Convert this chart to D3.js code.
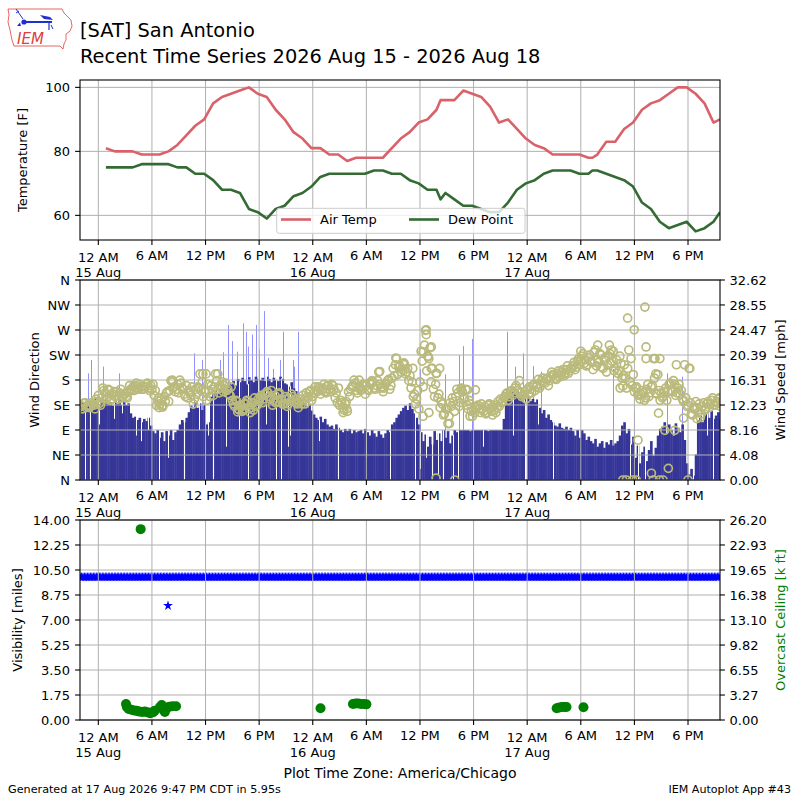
<!DOCTYPE html>
<html><head><meta charset="utf-8">
<script src="https://cdn.jsdelivr.net/npm/d3@7"></script>
<style>body{margin:0;background:#fff} svg{display:block} text{font-family:"DejaVu Sans",sans-serif}</style>
</head><body>
<svg id="c" width="800" height="800"></svg>
<script>
// ---------------- DATA (hours since 15 Aug 2026 00:00 CDT) ----------------
const titleLines = ["[SAT] San Antonio", "Recent Time Series 2026 Aug 15 - 2026 Aug 18"];
const xStartHour = -2.05, xEndHour = 69.58;

const obsHours = [0.85,1.85,2.85,3.85,4.85,5.85,6.85,7.85,8.85,9.85,10.85,11.85,12.85,13.85,14.85,15.85,16.85,17.85,18.85,19.85,
  20.85,21.85,22.85,23.85,24.85,25.85,26.85,27.85,28.85,29.85,30.85,31.85,32.85,33.85,34.85,35.85,36.85,37.85,38.3,
  38.85,39.85,40.85,41.85,42.85,43.85,44.85,45.85,46.85,47.85,48.85,49.85,50.85,51.85,52.85,53.85,54.85,55.3,
  55.85,56.85,57.85,58.85,59.85,60.85,61.85,62.85,63.85,64.85,65.85,66.85,67.85,68.85,69.58];
const airTemp = [81,80,80,80,79,79,79,80,82,85,88,90,95,97,98,99,100,98,97,93,
  90,86,84,81,81,79,79,77,78,78,78,78,81,84,86,89,90,93,96,
  96,96,99,98,97,94,89,90,87,84,82,81,79,79,79,79,78,78,
  79,83,83,87,89,93,95,96,98,100,100,98,95,89,90];
const dewPoint = [75,75,75,75,76,76,76,76,75,75,73,73,71,68,68,67,62,61,59,62,
  63,66,67,69,72,73,73,73,73,73,74,74,73,73,71,70,68,68,65,
  67,65,63,63,62,61,61,64,68,70,71,73,74,74,74,73,73,74,
  74,73,72,71,69,64,62,58,56,57,58,55,56,58,61];

// wind, 15 minute bins starting at windStartHour
const windStartHour = -2;
const windBinHours = 0.25;
const windDir = [
 140,135,146,138, 141,134,148,140, 138,142,135,146, 136,140,134,144, 137,146,135,140, 135,138,120,112,
 114,108,112,104, 110,106,112,98, 88,84,90,76, 86,70,88,80, 90,72,86,90, 100,108,104,112,
 122,134,128,140, 130,138,126,136, 100,104,150,158, 162,156,165,160, 150,168,175,172, 178,170,182,176,
 184,178,172,185, 180,176,186,182, 180,184,178,186, 182,176,184,180, 178,186,182,174, 172,168,176,165,
 160,150,145,140, 138,130,135,125, 118,112,108,114, 104,110,100,96, 98,92,100,94, 90,86,92,88,
 92,84,90,86, 88,90,84,92, 86,80,90,84, 78,88,82,76, 84,90,86,100, 104,112,118,124,
 130,134,126,138, 128,120,112,100, 86,70,82,60, 78,64,88,72, 84,70,90,76, 88,66,80,90,
 86,90,90,90, 90,90,88,90, 90,90,90,90, 90,90,88,90, 90,90,90,90, 90,110,138,150,
 156,160,165,160, 148,152,140,146, 150,142,146,140, 145,130,120,126, 112,118,108,104, 98,96,102,94,
 92,96,90,94, 88,80,90,76, 90,84,72,78, 70,66,74,60, 66,70,58,68, 64,72,62,66,
 70,80,98,104, 84,92,64,78, 40,62,30,50, 60,34,54,70, 44,58,80,92, 96,104,84,100,
 90,80,102,94, 86,100,72,30, 10,20,8,46, 108,116,104,118, 120,112,124,110, 116,122,110,118];
// wind speed (mph) at the middle of each 15 minute bin
const windSpeed = [
 12,12.5,11.8,12.2, 12,12.4,11.6,12.8, 12.5,13.4,14.6,13.2, 14.8,13,14,13.6, 13.8,14.2,13.4,14, 13.6,14.4,14.8,15.2,
 15.4,15,15.6,14.8, 15.2,15.6,15,15.4, 15.6,14.6,13,12.4, 12,13.6,14.2,12.8, 16.2,15,14.4,15.6, 16.3,15,14,15.4,
 14.6,13.8,12.4,14.8, 15.2,17.3,16,14.4, 13,14.6,15.4,13.8, 17.3,14.8,15.4,16, 15.4,14.6,14,15.2, 12.4,13,11.6,12.2,
 11.2,12.4,13,11.6, 12.6,11.4,12,13.2, 13.4,12.6,14,14.4, 13.6,14.6,13,12.6, 14,13.2,12.4,13.6, 12,13.4,14,12.8,
 12.6,11.8,13.2,13.8, 12.4,13.6,14.4,13, 14.2,14.6,15.2,14, 15,14.4,15.4,14.8, 15.6,14.8,14.2,15, 13,11.8,12.4,11.2,
 13.6,15.2,16.3,14.6, 15,14.6,15.6,14, 14.8,15.8,16.2,15, 15.4,17.6,15,14.4, 15.6,16.2,14.8,16.6, 17,19.8,18.4,17.6,
 19,17.3,18.2,17, 16,14,13.2,11.6, 21,15.2,24.4,20.2, 21.6,18.2,13.6,17.4, 14,12.8,10.6,11.6, 9.2,12.6,13.4,11.2,
 14.8,12,15,13.2, 14.8,11.6,12.4,10.4, 11,12,11.6,12.4, 11.2,10.8,12.2,11.6, 10.6,11.4,11.8,12, 12.6,13.4,14,13,
 14.4,13.8,15,14.6, 16.2,13.6,14,13.2, 14,14.8,15.4,14.6, 15.6,15,16.2,16, 16.4,15.4,16.8,17.2, 16.6,17.4,16.8,17.6,
 17,18,17.4,18.2, 18.6,18,19.4,18.8, 20.2,19,18.6,20, 19.4,18,21.2,19.6, 20.6,18.4,19.6,17.6, 20.2,19,21,18.2,
 17.4,20.2,16.6,18.8, 15,21.2,19.8,17.2, 15,14,13.2,14.6, 13,14.8,13.6,15.2, 19.8,14.2,17.2,13, 13.4,14.4,13,15.6,
 14.6,16.2,13.8,15, 14,13.2,18.8,12, 18.2,10.8,11.6,12.8, 11,10.2,12,11.4, 12.4,11.8,13,12.2, 12.6,13.2,12,12.8];
// wind speed (mph) at the start of each 15 minute bin
const windSpeedB = [
 12.2,11.6,12.6,12, 11.8,12.6,12.2,13.2, 13.8,12.2,15,14.2, 13.4,14.6,13.2,14.4, 14.4,13.2,14.8,13.6, 14,13.4,15.4,14.6,
 14.6,15.8,14.8,15.2, 14.8,15.2,15.8,14.6, 14.8,13.8,12.2,13.4, 13,12.2,12.8,14.4, 14.6,16,15.2,14.8, 14.2,15.8,14.8,13.6,
 13.4,14.2,15.2,13.2, 14,15,14.6,13.6, 14.4,15.6,13.6,14.8, 15.2,16.2,14.2,15, 14.4,15.8,14.8,13.8, 13,12,12.8,11.4,
 12,11.6,12.4,12.8, 11.8,12.6,13.4,12.2, 12.8,13.8,13.2,14, 14.2,13.2,12.2,13.8, 12.8,14.2,13,12.4, 13.2,12.4,12.8,13.6,
 13.2,12.4,12.8,12.4, 13,14.2,13.4,14.6, 13.6,15.2,14.4,15, 14.6,15.6,14.2,15.4, 14.4,15.4,13.4,12.6, 12.2,12.6,11.4,12.8,
 14.4,14.8,15.4,15.8, 14.2,15.2,14.8,15.6, 15.4,14.6,15.6,16, 14.8,16.2,15.6,15.2, 15,15.8,16.4,15.4, 18.2,18.8,17.2,18.6,
 18,18.8,17.6,16.2, 15,13.6,12.4,14.6, 16,19.4,22,17.8, 19.8,16,14.8,15.6, 13.4,11.8,12.4,10.8, 11.6,10.4,12,12.8,
 13.6,14.2,12.6,14.4, 13.4,12.2,13,11.2, 11.4,11.8,12.2,11, 11.6,12,11,12.4, 11.2,12.2,11,12.8, 13.2,12.8,13.6,14.2,
 13.6,14.6,14.2,15.4, 14.6,14.2,13.8,14.4, 14.8,15.2,14.2,15.6, 15.2,16.4,15.4,16.6, 15.8,16.6,16.2,17.6, 17.2,16.4,17.8,17.2,
 18,17.4,18.6,17.8, 18.2,19.2,18.4,19.8, 19.4,20.6,19.6,18.8, 20.4,19.2,20.8,18.6, 19.2,20.4,18.2,20, 18.8,20.6,19.4,17.8,
 19.6,17.8,19,17, 16.6,18.2,16,15.4, 14.4,15.2,13.8,14, 14.2,13.4,15.6,14.2, 15.4,16.6,14,14.6, 14.2,13.6,15,14.4,
 15.8,14.4,15.6,14.2, 15.6,14.6,12.8,13.4, 12.2,12.6,10.6,11.8, 11.8,12.4,10.8,12.6, 11.6,12.8,12.4,13.4, 12.2,12.8,13.4,12.4];
// extra single wind speed reports [hour, mph]
const windSpeedExtra = [[8.3,16.3],[11.7,17.3],[12.06,17.3],[13.37,17.3],[6.8,11.8],[7.2,11.9],[15.6,11.1],[16.2,11.4],[17.0,11.0],
 [27.4,11.0],[27.8,11.6],[29.2,16.3],[31.5,17.7],[33.3,19.9],[34.2,19.1],[35.2,18.2],
 [36.34,20.9],[36.7,24.5],[36.7,23.7],[37.27,21.7],[36.9,20.1],[37.27,18.2],[36.34,10.4],[37.0,11.0],[38.2,18.2],[37.8,17.4],
 [37.8,0.3],[39.9,0],[39.3,9.2],[40.6,14.7],[41.3,14.7],[42.2,14.7],[41.6,10.4],
 [52.2,17.3],[54.0,21.0],[55.9,22.0],[57.2,22.0],[57.4,21.2],[58.4,15.0],[58.7,15.3],
 [59.24,26.4],[59.98,24.5],[61.18,28.2],[61.3,21.7],[61.3,19.8],[62.3,19.8],[62.85,19.8],[62.4,17.3],[62.7,10.9],[60.4,6.5],
 [58.7,0],[59.1,0],[59.8,0],[60.2,0],[61.9,1.1],[62.1,0],[62.8,0],[63.2,0],[63.8,1.9],[66.0,0],
 [63.4,8.1],[64.5,8.1],[64.7,18.8],[66.2,18.2],[65.5,10.1],[67.0,10.0]];
// single-minute direction reports that stand above the bars [hour, deg]
const dirSpikes = [[-1.2,192],[-0.8,216],[0.5,204],[2.35,192],[10.7,228],[11.6,216],[13.6,216],[14.0,230],[14.5,279],[15.0,250],
 [15.5,231],[16.2,282],[16.5,267],[16.8,240],[17.2,262],[17.7,279],[18.0,235],[18.5,304],[19.0,220],[19.6,200],[20.3,216],
 [20.7,267],[21.8,216],[21.9,204],[22.3,267],[36.0,200],[38.8,190],[40.4,225],[40.8,241],[41.8,254],[45.7,267],[46.6,204],
 [47.5,228],[48.6,205],[49.6,195],[57.6,200],[59.9,120],[63.6,192],[65.3,186]];
// single-minute direction reports below the bars [hour, deg]
const dirDrops = [[-1.46,0],[-0.93,0],[0.11,100],[1.8,110],[2.7,120],[4.22,80],[4.78,70],[5.53,90],[6.76,0],[7.77,40],[9.64,0],
 [11.3,90],[12.25,80],[12.88,0],[14.3,60],[15.8,90],[16.7,0],[17.85,0],[18.8,100],[19.9,0],[21.2,60],[20.5,0],[21.4,80],
 [24.7,70],[26.8,0],[30.0,40],[32.6,0],[35.4,0],[36.0,20],[36.7,40],[37.3,0],[38.0,10],[38.6,0],[39.7,0],[40.3,0],[43.06,60],
 [46.4,80],[47.7,0],[47.9,0],[49.2,100],[50.9,0],[59.5,0],[60.4,0],[61.2,0],[66.6,0],[68.1,80],[68.8,0]];

// visibility (miles): runs of constant reports [fromHour, toHour, miles] every 10 minutes, plus single reports
const visStepHours = 1/6;
const visRuns = [[-2.05, 69.58, 10.0]];
const visSingles = [[7.8, 8.0]];
// overcast ceiling [hour, k ft]
const ceilObs = [[4.74,25.0],
 [3.1,2.1],[3.2,1.7],[3.4,1.45],[3.7,1.35],[4.0,1.25],[4.3,1.2],[4.6,1.1],[4.9,1.05],[5.2,1.1],[5.5,1.0],[5.8,0.9],[6.1,1.0],
 [6.3,1.2],[6.9,1.7],[7.1,1.95],[7.3,1.3],[7.45,1.05],[7.7,1.6],[7.95,1.75],[8.3,1.8],[8.7,1.8],
 [24.87,1.53],[28.5,2.1],[28.8,2.15],[29.1,2.15],[29.4,2.1],[29.7,2.1],[30.0,2.05],
 [51.3,1.55],[51.6,1.65],[51.9,1.7],[52.2,1.7],[52.4,1.7],[54.3,1.66]];

const tempTicks = [60, 80, 100];
const dirTicks = [0,45,90,135,180,225,270,315,360];
const dirLabels = ["N","NE","E","SE","S","SW","W","NW","N"];
const spdMax = 32.62;
const spdLabels = ["0.00","4.08","8.16","12.23","16.31","20.39","24.47","28.55","32.62"];
const visTicks = [0,1.75,3.5,5.25,7,8.75,10.5,12.25,14];
const visLabels = ["0.00","1.75","3.50","5.25","7.00","8.75","10.50","12.25","14.00"];
const cigMax = 26.2;
const cigLabels = ["0.00","3.27","6.55","9.82","13.10","16.38","19.65","22.93","26.20"];

// ---------------- DRAWING ----------------
const svg = d3.select("#c");
const L = 80, R = 720;
const base = Date.UTC(2026, 7, 15, 0, 0);
const T = h => new Date(base + h * 3600e3);
const x = d3.scaleUtc().domain([T(xStartHour), T(xEndHour)]).range([L, R]);
const xt = h => x(T(h));
const P = {top:[80,240], mid:[280,480], bot:[520,720]};
const GRID = "#b0b0b0", FS = 13;

const yT = d3.scaleLinear().domain([52.3, 102.3]).range([P.top[1], P.top[0]]);
const yDir = d3.scaleLinear().domain([0, 360]).range([P.mid[1], P.mid[0]]);
const ySpd = d3.scaleLinear().domain([0, spdMax]).range([P.mid[1], P.mid[0]]);
const yVis = d3.scaleLinear().domain([0, 14]).range([P.bot[1], P.bot[0]]);
const yCig = d3.scaleLinear().domain([0, cigMax]).range([P.bot[1], P.bot[0]]);

const defs = svg.append("defs");
Object.entries(P).forEach(([k, [t, b]]) => {
  defs.append("clipPath").attr("id", "clip-" + k).append("rect").attr("x", L).attr("y", t).attr("width", R - L).attr("height", b - t);
});
const xTickTimes = d3.utcHour.every(6).range(T(xStartHour), T(xEndHour));
const fmtHour = d3.utcFormat("%-I %p"), fmtDay = d3.utcFormat("%d %b");

function vGrid(g, [t, b]) {
  g.selectAll(null).data(xTickTimes).join("line").attr("x1", d => x(d)).attr("x2", d => x(d))
    .attr("y1", t).attr("y2", b).attr("stroke", GRID).attr("stroke-width", 1);
}
function hGrid(g, scale, ticks) {
  g.selectAll(null).data(ticks).join("line").attr("x1", L).attr("x2", R)
    .attr("y1", d => scale(d)).attr("y2", d => scale(d)).attr("stroke", GRID).attr("stroke-width", 1);
}
function xAxis(bottom) {
  const g = svg.append("g");
  xTickTimes.forEach(d => {
    const px = x(d);
    g.append("line").attr("x1", px).attr("x2", px).attr("y1", bottom).attr("y2", bottom + 4.9).attr("stroke", "#000").attr("stroke-width", 1.1);
    const mid = d.getUTCHours() === 0;
    g.append("text").attr("x", px).attr("y", bottom + (mid ? 21.6 : 20.3)).attr("text-anchor", "middle").attr("font-size", FS).text(fmtHour(d));
    if (mid) g.append("text").attr("x", px).attr("y", bottom + 37.4).attr("text-anchor", "middle").attr("font-size", FS).text(fmtDay(d));
  });
}
function yAxis(scale, ticks, labels, side) {
  const g = svg.append("g");
  ticks.forEach((v, i) => {
    const py = scale(v);
    if (side === "left") {
      g.append("line").attr("x1", L - 4.9).attr("x2", L).attr("y1", py).attr("y2", py).attr("stroke", "#000").attr("stroke-width", 1.1);
      g.append("text").attr("x", L - 10).attr("y", py).attr("dy", "0.36em").attr("text-anchor", "end").attr("font-size", FS).text(labels[i]);
    } else {
      g.append("line").attr("x1", R).attr("x2", R + 4.9).attr("y1", py).attr("y2", py).attr("stroke", "#000").attr("stroke-width", 1.1);
      g.append("text").attr("x", R + 9.5).attr("y", py).attr("dy", "0.36em").attr("text-anchor", "start").attr("font-size", FS).text(labels[i]);
    }
  });
}
function yLabel(text, bx, cy, color) {
  svg.append("text").attr("transform", `translate(${bx},${cy}) rotate(-90)`).attr("text-anchor", "middle")
    .attr("font-size", FS).attr("fill", color || "#000").text(text);
}
function frame([t, b]) {
  svg.append("rect").attr("x", L).attr("y", t).attr("width", R - L).attr("height", b - t)
    .attr("fill", "none").attr("stroke", "#000").attr("stroke-width", 1.1);
}

// ---- header ----
const logo = svg.append("g");
logo.append("path").attr("d", "M8,9 L62,9 L64,13 L67,16 L71,20 L72,26 L70,31 L66,34 L66,40 L64,44 L63,49 L60,46 L14,46 L12,40 L10,30 L8,22 L9,15 Z")
  .attr("fill", "none").attr("stroke", "#e0403a").attr("stroke-width", 0.8);
logo.append("line").attr("x1", 22).attr("y1", 22).attr("x2", 52).attr("y2", 22).attr("stroke", "#1f2fd0").attr("stroke-width", 2);
logo.append("circle").attr("cx", 24).attr("cy", 22).attr("r", 2.6).attr("fill", "#1f2fd0");
logo.append("line").attr("x1", 16).attr("y1", 9).attr("x2", 23).attr("y2", 19).attr("stroke", "#1f2fd0").attr("stroke-width", 1);
logo.append("line").attr("x1", 16).attr("y1", 13).attr("x2", 19).attr("y2", 11).attr("stroke", "#1f2fd0").attr("stroke-width", 1);
logo.append("path").attr("d", "M17,26 L20,22.5 L21,26 Z").attr("fill", "#1f2fd0");
logo.append("path").attr("d", "M40,15 L50,17 L53,20 L44,19 Z").attr("fill", "#1f2fd0");
logo.append("line").attr("x1", 49).attr("y1", 22).attr("x2", 49).attr("y2", 30).attr("stroke", "#1f2fd0").attr("stroke-width", 1.2);
logo.append("line").attr("x1", 51).attr("y1", 25).attr("x2", 53).attr("y2", 29).attr("stroke", "#1f2fd0").attr("stroke-width", 1);
logo.append("text").attr("x", 17).attr("y", 43.5).attr("font-family", "'Liberation Serif','DejaVu Serif',serif").attr("font-style", "italic")
  .attr("font-size", 15).attr("fill", "#e0403a").text("IEM");

svg.append("text").attr("x", 80).attr("y", 36.7).attr("font-size", 19.4).text(titleLines[0]);
svg.append("text").attr("x", 80).attr("y", 63.3).attr("font-size", 19.4).text(titleLines[1]);

// ---- top panel: temperatures ----
{
  const g = svg.append("g");
  vGrid(g, P.top); hGrid(g, yT, tempTicks);
  const c = svg.append("g").attr("clip-path", "url(#clip-top)");
  const line = d3.line().x((d, i) => xt(obsHours[i])).y(d => yT(d));
  c.append("path").datum(airTemp).attr("d", line).attr("fill", "none").attr("stroke", "#d9626a").attr("stroke-width", 2.6).attr("stroke-linejoin", "round");
  c.append("path").datum(dewPoint).attr("d", line).attr("fill", "none").attr("stroke", "#346b34").attr("stroke-width", 2.6).attr("stroke-linejoin", "round");
  const lg = svg.append("g");
  lg.append("rect").attr("x", 276.7).attr("y", 208.3).attr("width", 248.3).attr("height", 25).attr("rx", 2.5)
    .attr("fill", "#fff").attr("fill-opacity", 0.8).attr("stroke", "#cccccc").attr("stroke-width", 1);
  const items = [["Air Temp", "#d9626a", 281], ["Dew Point", "#346b34", 409]];
  items.forEach(([name, col, lx]) => {
    lg.append("line").attr("x1", lx).attr("x2", lx + 30).attr("y1", 219.5).attr("y2", 219.5).attr("stroke", col).attr("stroke-width", 2.6);
    lg.append("text").attr("x", lx + 39).attr("y", 224).attr("font-size", FS).text(name);
  });
  frame(P.top);
  yAxis(yT, tempTicks, tempTicks.map(String), "left");
  xAxis(P.top[1]);
  yLabel("Temperature [F]", 27, 160);
}

// ---- middle panel: wind ----
{
  const c = svg.append("g").attr("clip-path", "url(#clip-mid)");
  const binX0 = i => xt(windStartHour + i * windBinHours);
  c.selectAll(null).data(dirSpikes).join("rect")
    .attr("x", d => Math.round(xt(d[0]))).attr("width", 1)
    .attr("y", d => yDir(d[1])).attr("height", d => yDir(0) - yDir(d[1])).attr("fill", "#9393ff");
  c.selectAll(null).data(windDir).join("rect")
    .attr("x", (d, i) => binX0(i)).attr("width", (d, i) => binX0(i + 1) - binX0(i) + 0.4)
    .attr("y", d => yDir(d)).attr("height", d => yDir(0) - yDir(d)).attr("fill", "#363699");
  const binOf = h => Math.max(0, Math.min(windDir.length - 1, Math.floor((h - windStartHour) / windBinHours)));
  c.selectAll(null).data(dirDrops).join("rect")
    .attr("x", d => Math.round(xt(d[0]))).attr("width", 1)
    .attr("y", d => yDir(windDir[binOf(d[0])]) - 0.5).attr("height", d => Math.max(0, yDir(d[1]) - yDir(windDir[binOf(d[0])]) + 0.5))
    .attr("fill", "#fff");
  const g = svg.append("g");
  vGrid(g, P.mid); hGrid(g, yDir, dirTicks);
  const c2 = svg.append("g").attr("clip-path", "url(#clip-mid)");
  const circ = "#baba7c";
  const ring = sel => sel.attr("r", 4).attr("fill", "none").attr("stroke", circ).attr("stroke-width", 1.7);
  c2.selectAll(null).data(windSpeedB).join("circle")
    .attr("cx", (d, i) => xt(windStartHour + i * windBinHours)).attr("cy", d => ySpd(d)).call(ring);
  c2.selectAll(null).data(windSpeed).join("circle")
    .attr("cx", (d, i) => xt(windStartHour + (i + 0.5) * windBinHours)).attr("cy", d => ySpd(d)).call(ring);
  c2.selectAll(null).data(windSpeedExtra).join("circle")
    .attr("cx", d => xt(d[0])).attr("cy", d => ySpd(d[1])).call(ring);
  frame(P.mid);
  yAxis(yDir, dirTicks, dirLabels, "left");
  yAxis(ySpd, spdLabels.map(Number), spdLabels, "right");
  xAxis(P.mid[1]);
  yLabel("Wind Direction", 38.5, 380);
  yLabel("Wind Speed [mph]", 785, 380);
}

// ---- bottom panel: visibility / ceiling ----
{
  const c = svg.append("g").attr("clip-path", "url(#clip-bot)");
  const visPts = [];
  visRuns.forEach(([a, b, v]) => { for (let h = a; h <= b + 1e-9; h += visStepHours) visPts.push([h, v]); });
  visSingles.forEach(p => visPts.push(p));
  const star = d3.symbol().type(d3.symbolStar).size(30)();
  c.selectAll(null).data(visPts).join("path").attr("d", star)
    .attr("transform", d => `translate(${xt(d[0])},${yVis(d[1])})`).attr("fill", "#0000ff");
  const g = svg.append("g");
  vGrid(g, P.bot); hGrid(g, yVis, visTicks);
  const c2 = svg.append("g").attr("clip-path", "url(#clip-bot)");
  c2.selectAll(null).data(ceilObs).join("circle")
    .attr("cx", d => xt(d[0])).attr("cy", d => yCig(d[1])).attr("r", 5).attr("fill", "#008000");
  frame(P.bot);
  yAxis(yVis, visTicks, visLabels, "left");
  yAxis(yCig, cigLabels.map(Number), cigLabels, "right");
  xAxis(P.bot[1]);
  yLabel("Visibility [miles]", 21.6, 620);
  yLabel("Overcast Ceiling [k ft]", 785, 620, "#008000");
}

// ---- footer ----
svg.append("text").attr("x", 400).attr("y", 778).attr("text-anchor", "middle").attr("font-size", 14).text("Plot Time Zone: America/Chicago");
svg.append("text").attr("x", 8).attr("y", 793).attr("font-size", 11.2).text("Generated at 17 Aug 2026 9:47 PM CDT in 5.95s");
svg.append("text").attr("x", 791).attr("y", 793).attr("text-anchor", "end").attr("font-size", 11.1).text("IEM Autoplot App #43");
</script>
</body></html>
